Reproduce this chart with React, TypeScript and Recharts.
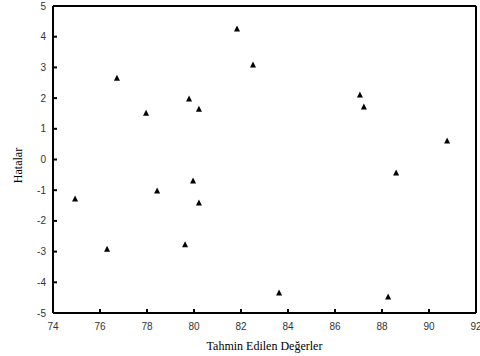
import React from "react";
import {
  ScatterChart,
  Scatter,
  XAxis,
  YAxis,
  Label,
} from "recharts";

// predicted values (x) and errors (y)
const predicted = [
  74.94, 76.3, 76.72, 77.96, 78.43, 79.62, 79.79, 80.21, 79.96, 80.21, 81.83,
  82.51, 83.62, 87.06, 87.23, 88.6, 88.26, 90.77,
];
const errors = [
  -1.29, -2.92, 2.65, 1.51, -1.03, -2.78, 1.97, 1.64, -0.7, -1.42, 4.25, 3.08,
  -4.35, 2.1, 1.71, -0.44, -4.48, 0.6,
];
const xTicks = [74, 76, 78, 80, 82, 84, 86, 88, 90, 92];
const yTicks = [-5, -4, -3, -2, -1, 0, 1, 2, 3, 4, 5];

const points = predicted.map((x, i) => ({ x, y: errors[i] }));

const labelFont = "Arial, 'Liberation Sans', sans-serif";
const titleFont = "'Times New Roman', 'Liberation Serif', serif";

const BottomTick = ({ x, y, payload }: any) => (
  <g>
    <line x1={x} y1={y} x2={x} y2={y - 4} stroke="#000" strokeWidth={2} />
    <text x={x} y={y + 17} textAnchor="middle" fontSize={10} fill="#333" fontFamily={labelFont}>
      {payload.value}
    </text>
  </g>
);

const LeftTick = ({ x, y, payload }: any) => (
  <g>
    <line x1={x} y1={y} x2={x + 4} y2={y} stroke="#000" strokeWidth={2} />
    <text x={x - 7} y={y + 3.5} textAnchor="end" fontSize={10} fill="#333" fontFamily={labelFont}>
      {payload.value}
    </text>
  </g>
);

const TopTick = ({ x, y }: any) => (
  <line x1={x} y1={y} x2={x} y2={y + 4} stroke="#000" strokeWidth={2} />
);

const RightTick = ({ x, y }: any) => (
  <line x1={x} y1={y} x2={x - 4} y2={y} stroke="#000" strokeWidth={2} />
);

const Triangle = ({ cx, cy }: any) => (
  <path d={`M${cx},${cy - 3.5}L${cx + 3},${cy + 2.5}L${cx - 3},${cy + 2.5}Z`} fill="#000" />
);

const YTitle = ({ viewBox }: any) => {
  const cx = viewBox.x + 18;
  const cy = viewBox.y + viewBox.height / 2 + 6;
  return (
    <text
      x={cx}
      y={cy}
      transform={`rotate(-90, ${cx}, ${cy})`}
      textAnchor="middle"
      dominantBaseline="central"
      fontFamily={titleFont}
      fontSize={12}
      fill="#000"
    >
      Hatalar
    </text>
  );
};

export default function App() {
  return (
    <div style={{ position: "absolute", left: 0, top: 0, background: "#fff" }}>
      <ScatterChart width={480} height={356} margin={{ top: 0, right: 0, bottom: 0, left: 0 }}>
        <XAxis
          xAxisId="bottom"
          dataKey="x"
          type="number"
          domain={[74, 92]}
          ticks={xTicks}
          interval={0}
          height={43}
          tickSize={0}
          tickMargin={0}
          tick={<BottomTick />}
          axisLine={{ stroke: "#000", strokeWidth: 2 }}
        >
          <Label
            value="Tahmin Edilen Değerler"
            position="insideBottom"
            offset={6}
            style={{ fontFamily: titleFont, fontSize: 12, fill: "#000" }}
          />
        </XAxis>
        <XAxis
          xAxisId="top"
          orientation="top"
          type="number"
          domain={[74, 92]}
          ticks={xTicks}
          interval={0}
          height={6}
          tickSize={0}
          tickMargin={0}
          tick={<TopTick />}
          axisLine={{ stroke: "#000", strokeWidth: 2 }}
        />
        <YAxis
          yAxisId="left"
          dataKey="y"
          type="number"
          domain={[-5, 5]}
          ticks={yTicks}
          interval={0}
          width={53}
          tickSize={0}
          tickMargin={0}
          tick={<LeftTick />}
          axisLine={{ stroke: "#000", strokeWidth: 2 }}
        >
          <Label content={<YTitle />} />
        </YAxis>
        <YAxis
          yAxisId="right"
          orientation="right"
          type="number"
          domain={[-5, 5]}
          ticks={yTicks}
          interval={0}
          width={4}
          tickSize={0}
          tickMargin={0}
          tick={<RightTick />}
          axisLine={{ stroke: "#000", strokeWidth: 2 }}
        />
        <Scatter
          data={points}
          xAxisId="bottom"
          yAxisId="left"
          shape={<Triangle />}
          isAnimationActive={false}
        />
      </ScatterChart>
    </div>
  );
}
